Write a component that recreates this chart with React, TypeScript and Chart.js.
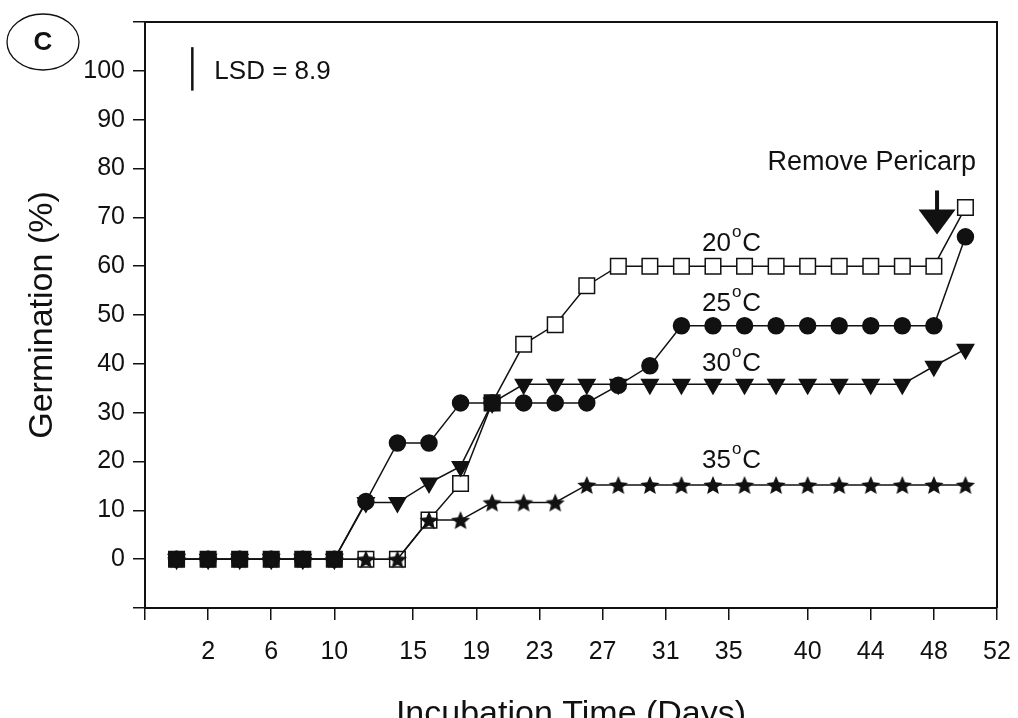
import React, { useEffect, useRef } from 'react';
import { Chart, registerables } from 'chart.js';
Chart.register(...registerables);

// ---- data ----
const days = [0, 2, 4, 6, 8, 10, 12, 14, 16, 18, 20, 22, 24, 26, 28, 30, 32, 34, 36, 38, 40, 42, 44, 46, 48, 50];
const germ20C = [0, 0, 0, 0, 0, 0, 0, 0, 8, 15.5, 32, 44, 48, 56, 60, 60, 60, 60, 60, 60, 60, 60, 60, 60, 60, 72];
const germ25C = [0, 0, 0, 0, 0, 0, 11.8, 23.8, 23.8, 32, 32, 32, 32, 32, 35.6, 39.6, 47.8, 47.8, 47.8, 47.8, 47.8, 47.8, 47.8, 47.8, 47.8, 66];
const germ30C = [0, 0, 0, 0, 0, 0, 11.6, 11.6, 15.6, 19, 32, 35.8, 35.8, 35.8, 35.8, 35.8, 35.8, 35.8, 35.8, 35.8, 35.8, 35.8, 35.8, 35.8, 39.5, 43];
const germ35C = [0, 0, 0, 0, 0, 0, 0, 0, 8, 8, 11.6, 11.6, 11.6, 15.2, 15.2, 15.2, 15.2, 15.2, 15.2, 15.2, 15.2, 15.2, 15.2, 15.2, 15.2, 15.2];
const xTickValues = [-2, 2, 6, 10, 15, 19, 23, 27, 31, 35, 40, 44, 48, 52];
const yTickLabels = [0, 10, 20, 30, 40, 50, 60, 70, 80, 90, 100];
const temperatures = ['20', '25', '30', '35'];
const lsdValue = 8.9;
const removeDay = 48.2;

const INK = '#111';
const FONT = '"Liberation Sans", Arial, sans-serif';

function makeStar(size: number): HTMLCanvasElement {
  const c = document.createElement('canvas');
  c.width = size;
  c.height = size;
  const g = c.getContext('2d')!;
  const cx = size / 2;
  const cy = size / 2 + 1;
  const R = size / 2;
  const r = R * 0.45;
  g.beginPath();
  for (let i = 0; i < 10; i++) {
    const ang = -Math.PI / 2 + (i * Math.PI) / 5;
    const rad = i % 2 === 0 ? R : r;
    g.lineTo(cx + rad * Math.cos(ang), cy + rad * Math.sin(ang));
  }
  g.closePath();
  g.fillStyle = INK;
  g.fill();
  return c;
}

const annotations = {
  id: 'annotations',
  afterDraw(chart: any) {
    const { ctx, chartArea: a, scales } = chart;
    const x = scales.x;
    const y = scales.y;
    ctx.save();
    // frame: top and right
    ctx.strokeStyle = INK;
    ctx.lineWidth = 2;
    ctx.beginPath();
    ctx.moveTo(a.left, a.top);
    ctx.lineTo(a.right, a.top);
    ctx.lineTo(a.right, a.bottom);
    ctx.stroke();

    ctx.fillStyle = INK;
    // LSD bar
    const lsdX = x.getPixelForValue(1.0);
    const lsdC = 100.4;
    ctx.lineWidth = 2.5;
    ctx.beginPath();
    ctx.moveTo(lsdX, y.getPixelForValue(lsdC - lsdValue / 2));
    ctx.lineTo(lsdX, y.getPixelForValue(lsdC + lsdValue / 2));
    ctx.stroke();
    ctx.font = '26px ' + FONT;
    ctx.textAlign = 'left';
    ctx.textBaseline = 'alphabetic';
    ctx.fillText('LSD = ' + lsdValue, lsdX + 22, y.getPixelForValue(lsdC) + 10);

    // Remove Pericarp
    ctx.font = '27px ' + FONT;
    ctx.textAlign = 'right';
    ctx.fillText('Remove Pericarp', a.right - 21, 170);
    const ax = x.getPixelForValue(removeDay);
    const aTop = y.getPixelForValue(75.5);
    const aTip = y.getPixelForValue(66.5);
    ctx.lineWidth = 4;
    ctx.beginPath();
    ctx.moveTo(ax, aTop);
    ctx.lineTo(ax, aTip - 22);
    ctx.stroke();
    ctx.beginPath();
    ctx.moveTo(ax - 18.5, aTip - 25);
    ctx.lineTo(ax + 18.5, aTip - 25);
    ctx.lineTo(ax, aTip);
    ctx.closePath();
    ctx.fill();

    // temperature labels
    const labelY = [63.2, 50.8, 38.6, 18.7];
    temperatures.forEach((t, i) => {
      let px = x.getPixelForValue(33.3);
      const py = y.getPixelForValue(labelY[i]);
      ctx.textAlign = 'left';
      ctx.font = '26px ' + FONT;
      ctx.fillText(t, px, py);
      px += ctx.measureText(t).width + 1;
      ctx.font = '17px ' + FONT;
      ctx.fillText('o', px, py - 14);
      px += ctx.measureText('o').width + 1;
      ctx.font = '26px ' + FONT;
      ctx.fillText('C', px, py);
    });

    // panel label (C)
    ctx.lineWidth = 1.3;
    ctx.beginPath();
    ctx.ellipse(43, 42, 36, 28, 0, 0, Math.PI * 2);
    ctx.stroke();
    ctx.font = 'bold 26px ' + FONT;
    ctx.textAlign = 'center';
    ctx.textBaseline = 'middle';
    ctx.fillText('C', 43, 43);

    // axis titles
    ctx.font = '34px ' + FONT;
    ctx.textAlign = 'center';
    ctx.textBaseline = 'alphabetic';
    ctx.fillText('Incubation Time (Days)', 571, 724);
    ctx.save();
    ctx.translate(52, (a.top + a.bottom) / 2);
    ctx.rotate(-Math.PI / 2);
    ctx.fillText('Germination (%)', 0, 0);
    ctx.restore();

    ctx.restore();
  },
};

export default function App() {
  const ref = useRef<HTMLCanvasElement>(null);
  useEffect(() => {
    const star = makeStar(20);
    const pts = (vals: number[]) => vals.map((v, i) => ({ x: days[i], y: v }));
    const chart = new Chart(ref.current!, {
      type: 'line',
      data: {
        datasets: [
          {
            label: '35°C',
            data: pts(germ35C),
            order: 0,
            borderColor: INK,
            borderWidth: 1.5,
            pointStyle: star as any,
            pointRadius: 9,
            pointBackgroundColor: INK,
            pointBorderColor: INK,
          },
          {
            label: '25°C',
            data: pts(germ25C),
            order: 1,
            borderColor: INK,
            borderWidth: 1.5,
            pointStyle: 'circle',
            pointRadius: 8,
            pointBackgroundColor: INK,
            pointBorderColor: INK,
          },
          {
            label: '30°C',
            data: pts(germ30C),
            order: 2,
            borderColor: INK,
            borderWidth: 1.5,
            pointStyle: 'triangle',
            pointRotation: 180,
            pointRadius: 9.5,
            pointBackgroundColor: INK,
            pointBorderColor: INK,
          },
          {
            label: '20°C',
            data: pts(germ20C),
            order: 3,
            borderColor: INK,
            borderWidth: 1.5,
            pointStyle: 'rect',
            pointRadius: 11,
            pointBorderWidth: 1.5,
            pointBorderColor: INK,
            pointBackgroundColor: (c: any) =>
              germ20C[c.dataIndex] === germ25C[c.dataIndex] ? INK : '#fff',
          },
        ],
      },
      options: {
        animation: false,
        responsive: true,
        maintainAspectRatio: false,
        layout: { padding: { top: 22, right: 21, left: 0, bottom: 0 } },
        plugins: { legend: { display: false }, tooltip: { enabled: false } },
        elements: { line: { tension: 0 } },
        scales: {
          x: {
            type: 'linear',
            min: -2,
            max: 52,
            afterBuildTicks: (s: any) => {
              s.ticks = xTickValues.map((v) => ({ value: v }));
            },
            afterFit: (s: any) => {
              s.height = 110;
              s.paddingLeft = 0;
              s.paddingRight = 0;
            },
            ticks: {
              autoSkip: false,
              maxRotation: 0,
              padding: 17,
              color: INK,
              font: { family: FONT, size: 25 },
              callback: (v: any) => (xTickValues.indexOf(v) > 0 ? String(v) : ''),
            },
            grid: { drawOnChartArea: false, drawTicks: true, tickLength: 12, color: INK, lineWidth: 1.5 },
            border: { display: true, color: INK, width: 2 },
          },
          y: {
            type: 'linear',
            min: -10,
            max: 110,
            afterFit: (s: any) => {
              s.width = 145;
              s.paddingTop = 0;
              s.paddingBottom = 0;
            },
            ticks: {
              stepSize: 10,
              padding: 8,
              color: INK,
              font: { family: FONT, size: 25 },
              callback: (v: any) => (yTickLabels.indexOf(v) >= 0 ? String(v) : ''),
            },
            grid: { drawOnChartArea: false, drawTicks: true, tickLength: 12, color: INK, lineWidth: 1.5 },
            border: { display: true, color: INK, width: 2 },
          },
        },
      },
      plugins: [annotations],
    });
    return () => chart.destroy();
  }, []);
  return (
    <div style={{ position: 'absolute', left: 0, top: 0, width: 1018, height: 718, background: '#fff' }}>
      <canvas ref={ref} />
    </div>
  );
}
